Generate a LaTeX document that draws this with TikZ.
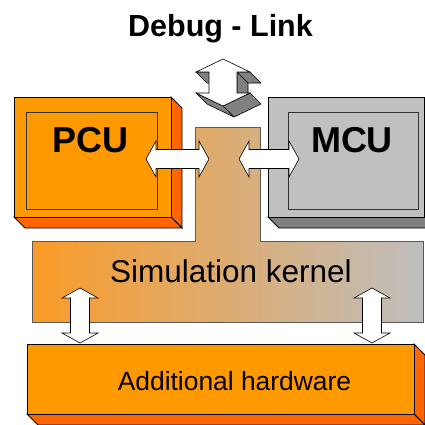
\documentclass[tikz,border=0pt]{standalone}
\usepackage{fontspec}
\setmainfont{Liberation Sans}
\definecolor{orfront}{HTML}{FF9900}
\definecolor{orside}{HTML}{FF6600}
\definecolor{grfront}{HTML}{C0C0C0}
\definecolor{grside}{HTML}{808080}
\definecolor{kleft}{RGB}{250,155,40}
\definecolor{kmid}{RGB}{228,172,140}
\definecolor{kright}{RGB}{190,190,190}
\newcommand\hblockarrow[2]{%
  \draw[barrow] (#1) -- ([shift={(10,-18)}]#1) -- ([shift={(10,-9.5)}]#1) -- ([shift={(-10,-9.5)}]#2) -- ([shift={(-10,-18)}]#2) -- (#2) -- ([shift={(-10,18)}]#2) -- ([shift={(-10,9.5)}]#2) -- ([shift={(10,9.5)}]#1) -- ([shift={(10,18)}]#1) -- cycle;}
\newcommand\vblockarrow[2]{%
  \draw[barrow] (#1) -- ([shift={(18,10)}]#1) -- ([shift={(9.5,10)}]#1) -- ([shift={(9.5,-10)}]#2) -- ([shift={(18,-10)}]#2) -- (#2) -- ([shift={(-18,-10)}]#2) -- ([shift={(-9.5,-10)}]#2) -- ([shift={(-9.5,10)}]#1) -- ([shift={(-18,10)}]#1) -- cycle;}
\begin{document}
\begin{tikzpicture}[x=1pt,y=-1pt,
  face/.style={draw=black,line width=0.8pt,line join=miter},
  innerbox/.style={draw=black!80,line width=0.7pt},
  barrow/.style={draw=black,fill=white,line width=0.6pt,line join=miter},
  darrowside/.style={draw=black,fill=grside,line width=0.6pt,line join=round},
  lbl/.style={inner sep=0pt,anchor=base,text=black}]
\useasboundingbox (0,0) rectangle (425,424);
\begin{scope}
\clip (0,0) rectangle (425,424);
% Simulation kernel (T shape)
\shadedraw[left color=kleft, middle color=kmid, right color=kright, draw=black!65, line width=0.7pt]
  (32,241) -- (195,241) -- (195,127) -- (260,127) -- (260,241) -- (423,241) -- (423,322) -- (32,322) -- cycle;
% PCU box
\draw[face,fill=orside] (171,97) -- (182,108) -- (182,228) -- (171,217) -- cycle;
\draw[face,fill=orside] (14,217) -- (171,217) -- (182,228) -- (25,228) -- cycle;
\draw[face,fill=orfront] (14,97) rectangle (171,217);
\draw[innerbox] (26,112) rectangle (157,209);
% MCU box
\draw[face,fill=grside] (268,217) -- (424.5,217) -- (435.5,228) -- (279,228) -- cycle;
\draw[face,fill=grfront] (268,97) rectangle (424.5,217);
\draw[innerbox] (288,112) rectangle (418,209);
% Additional hardware box
\draw[face,fill=orside] (414,344) -- (425,355) -- (425,425) -- (414,414) -- cycle;
\draw[face,fill=orside] (27,414) -- (414,414) -- (425,425) -- (38,425) -- cycle;
\draw[face,fill=orfront] (27,344) rectangle (414,414);
% Debug-link 3D arrow
\draw[darrowside] (237,72) -- (237,93) -- (248,104) -- (248,83) -- cycle;
\draw[darrowside] (250,93) -- (223,106) -- (234,117) -- (261,104) -- cycle;
\draw[darrowside] (223,106) -- (196,93) -- (207,104) -- (234,117) -- cycle;
\draw[darrowside] (250,72) -- (237,72) -- (248,83) -- (261,83) -- cycle;
\draw[darrowside] (209,72) -- (196,72) -- (207,83) -- (220,83) -- cycle;
\draw[barrow] (223,59) -- (250,72) -- (237,72) -- (237,93) -- (250,93) -- (223,106) -- (196,93) -- (209,93) -- (209,72) -- (196,72) -- cycle;
% block arrows
\coordinate (pcuL) at (146,159);
\coordinate (pcuR) at (209,159);
\coordinate (mcuL) at (239,159);
\coordinate (mcuR) at (299,159);
\coordinate (hwAt) at (80,288);
\coordinate (hwAb) at (80,343);
\coordinate (hwBt) at (372,288);
\coordinate (hwBb) at (372,343);
\hblockarrow{pcuL}{pcuR}
\hblockarrow{mcuL}{mcuR}
\vblockarrow{hwAt}{hwAb}
\vblockarrow{hwBt}{hwBb}
\end{scope}
% labels
\node[lbl,font=\fontsize{30.5}{30.5}\selectfont\bfseries] (title) at (220.5,36) {Debug - Link};
\node[lbl,font=\fontsize{36}{36}\selectfont\bfseries] (pcu) at (90.5,152.7) {PCU};
\node[lbl,font=\fontsize{36}{36}\selectfont\bfseries] (mcu) at (352,152.7) {MCU};
\node[lbl,font=\fontsize{31.5}{31.5}\selectfont] (kernel) at (231,282.7) {Simulation kernel};
\node[lbl,font=\fontsize{26.4}{26.4}\selectfont] (hw) at (234.5,390) {Additional hardware};
\end{tikzpicture}
\end{document}
